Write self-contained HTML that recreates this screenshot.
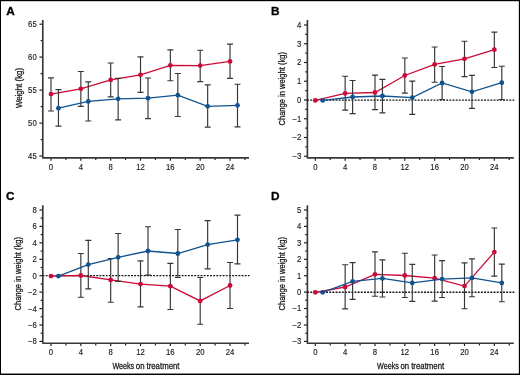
<!DOCTYPE html>
<html><head><meta charset="utf-8"><style>
html,body{margin:0;padding:0;background:#fff;-webkit-font-smoothing:antialiased;}
body{width:520px;height:375px;overflow:hidden;position:relative;}
svg{position:absolute;left:0;top:0;will-change:transform;}
.tk{font-family:"Liberation Sans", sans-serif;font-size:8.3px;fill:#1a1a1a;stroke:#1a1a1a;stroke-width:0.15px;}
.al{font-family:"Liberation Sans", sans-serif;font-size:9.8px;fill:#1a1a1a;stroke:#1a1a1a;stroke-width:0.3px;}
.pl{font-family:"Liberation Sans", sans-serif;font-size:11.8px;font-weight:bold;fill:#000;stroke:#000;stroke-width:0.3px;}
</style></head><body>
<svg width="520" height="375" viewBox="0 0 520 375">

<g><line x1="39.4" y1="156" x2="42.8" y2="156" stroke="#231f20" stroke-width="1.2"/><text x="36.7" y="158.9" text-anchor="end" textLength="8.58" lengthAdjust="spacingAndGlyphs" class="tk">45</text><line x1="40.6" y1="139.55" x2="42.8" y2="139.55" stroke="#231f20" stroke-width="1.2"/><line x1="39.4" y1="123.1" x2="42.8" y2="123.1" stroke="#231f20" stroke-width="1.2"/><text x="36.7" y="126" text-anchor="end" textLength="8.58" lengthAdjust="spacingAndGlyphs" class="tk">50</text><line x1="40.6" y1="106.6" x2="42.8" y2="106.6" stroke="#231f20" stroke-width="1.2"/><line x1="39.4" y1="90.1" x2="42.8" y2="90.1" stroke="#231f20" stroke-width="1.2"/><text x="36.7" y="93" text-anchor="end" textLength="8.58" lengthAdjust="spacingAndGlyphs" class="tk">55</text><line x1="40.6" y1="73.6" x2="42.8" y2="73.6" stroke="#231f20" stroke-width="1.2"/><line x1="39.4" y1="57.1" x2="42.8" y2="57.1" stroke="#231f20" stroke-width="1.2"/><text x="36.7" y="60" text-anchor="end" textLength="8.58" lengthAdjust="spacingAndGlyphs" class="tk">60</text><line x1="40.6" y1="40.65" x2="42.8" y2="40.65" stroke="#231f20" stroke-width="1.2"/><line x1="39.4" y1="24.2" x2="42.8" y2="24.2" stroke="#231f20" stroke-width="1.2"/><text x="36.7" y="27.1" text-anchor="end" textLength="8.58" lengthAdjust="spacingAndGlyphs" class="tk">65</text><line x1="51" y1="157.9" x2="51" y2="160.7" stroke="#231f20" stroke-width="1.2"/><text x="51" y="170" text-anchor="middle" textLength="4.29" lengthAdjust="spacingAndGlyphs" class="tk">0</text><line x1="65.92" y1="157.9" x2="65.92" y2="160.1" stroke="#231f20" stroke-width="1.2"/><line x1="80.84" y1="157.9" x2="80.84" y2="160.7" stroke="#231f20" stroke-width="1.2"/><text x="80.84" y="170" text-anchor="middle" textLength="4.29" lengthAdjust="spacingAndGlyphs" class="tk">4</text><line x1="95.76" y1="157.9" x2="95.76" y2="160.1" stroke="#231f20" stroke-width="1.2"/><line x1="110.68" y1="157.9" x2="110.68" y2="160.7" stroke="#231f20" stroke-width="1.2"/><text x="110.68" y="170" text-anchor="middle" textLength="4.29" lengthAdjust="spacingAndGlyphs" class="tk">8</text><line x1="125.6" y1="157.9" x2="125.6" y2="160.1" stroke="#231f20" stroke-width="1.2"/><line x1="140.52" y1="157.9" x2="140.52" y2="160.7" stroke="#231f20" stroke-width="1.2"/><text x="140.52" y="170" text-anchor="middle" textLength="8.58" lengthAdjust="spacingAndGlyphs" class="tk">12</text><line x1="155.44" y1="157.9" x2="155.44" y2="160.1" stroke="#231f20" stroke-width="1.2"/><line x1="170.36" y1="157.9" x2="170.36" y2="160.7" stroke="#231f20" stroke-width="1.2"/><text x="170.36" y="170" text-anchor="middle" textLength="8.58" lengthAdjust="spacingAndGlyphs" class="tk">16</text><line x1="185.28" y1="157.9" x2="185.28" y2="160.1" stroke="#231f20" stroke-width="1.2"/><line x1="200.2" y1="157.9" x2="200.2" y2="160.7" stroke="#231f20" stroke-width="1.2"/><text x="200.2" y="170" text-anchor="middle" textLength="8.58" lengthAdjust="spacingAndGlyphs" class="tk">20</text><line x1="215.12" y1="157.9" x2="215.12" y2="160.1" stroke="#231f20" stroke-width="1.2"/><line x1="230.04" y1="157.9" x2="230.04" y2="160.7" stroke="#231f20" stroke-width="1.2"/><text x="230.04" y="170" text-anchor="middle" textLength="8.58" lengthAdjust="spacingAndGlyphs" class="tk">24</text><line x1="244.96" y1="157.9" x2="244.96" y2="160.1" stroke="#231f20" stroke-width="1.2"/><path d="M42.8 19.9V157.9H249" fill="none" stroke="#383838" stroke-width="1.65" stroke-linejoin="round"/><path d="M51 77.9V111M48 77.9H54M48 111H54" stroke="#363636" stroke-width="1.15" fill="none"/><path d="M80.84 71.5V106.3M77.84 71.5H83.84M77.84 106.3H83.84" stroke="#363636" stroke-width="1.15" fill="none"/><path d="M110.68 63V96.9M107.68 63H113.68M107.68 96.9H113.68" stroke="#363636" stroke-width="1.15" fill="none"/><path d="M140.52 56.9V92.4M137.52 56.9H143.52M137.52 92.4H143.52" stroke="#363636" stroke-width="1.15" fill="none"/><path d="M170.36 49.9V80.7M167.36 49.9H173.36M167.36 80.7H173.36" stroke="#363636" stroke-width="1.15" fill="none"/><path d="M200.2 50.2V81.6M197.2 50.2H203.2M197.2 81.6H203.2" stroke="#363636" stroke-width="1.15" fill="none"/><path d="M230.04 44.1V78.4M227.04 44.1H233.04M227.04 78.4H233.04" stroke="#363636" stroke-width="1.15" fill="none"/><polyline points="51,94.1 80.84,88.8 110.68,79.9 140.52,74.8 170.36,65.3 200.2,65.6 230.04,61.4" fill="none" stroke="#cc0a38" stroke-width="1.3"/><circle cx="51" cy="94.1" r="2.4" fill="#cc0a38"/><circle cx="80.84" cy="88.8" r="2.4" fill="#cc0a38"/><circle cx="110.68" cy="79.9" r="2.4" fill="#cc0a38"/><circle cx="140.52" cy="74.8" r="2.4" fill="#cc0a38"/><circle cx="170.36" cy="65.3" r="2.4" fill="#cc0a38"/><circle cx="200.2" cy="65.6" r="2.4" fill="#cc0a38"/><circle cx="230.04" cy="61.4" r="2.4" fill="#cc0a38"/><path d="M58.46 89.6V126.1M55.46 89.6H61.46M55.46 126.1H61.46" stroke="#363636" stroke-width="1.15" fill="none"/><path d="M88.3 81.9V121M85.3 81.9H91.3M85.3 121H91.3" stroke="#363636" stroke-width="1.15" fill="none"/><path d="M118.14 78.3V119.9M115.14 78.3H121.14M115.14 119.9H121.14" stroke="#363636" stroke-width="1.15" fill="none"/><path d="M147.98 78V118.6M144.98 78H150.98M144.98 118.6H150.98" stroke="#363636" stroke-width="1.15" fill="none"/><path d="M177.82 73.5V116.5M174.82 73.5H180.82M174.82 116.5H180.82" stroke="#363636" stroke-width="1.15" fill="none"/><path d="M207.66 84.8V127.1M204.66 84.8H210.66M204.66 127.1H210.66" stroke="#363636" stroke-width="1.15" fill="none"/><path d="M237.5 84.2V126.8M234.5 84.2H240.5M234.5 126.8H240.5" stroke="#363636" stroke-width="1.15" fill="none"/><polyline points="58.46,108.2 88.3,101.4 118.14,98.8 147.98,98.2 177.82,95.2 207.66,106.3 237.5,105.3" fill="none" stroke="#10538f" stroke-width="1.3"/><circle cx="58.46" cy="108.2" r="2.4" fill="#10538f"/><circle cx="88.3" cy="101.4" r="2.4" fill="#10538f"/><circle cx="118.14" cy="98.8" r="2.4" fill="#10538f"/><circle cx="147.98" cy="98.2" r="2.4" fill="#10538f"/><circle cx="177.82" cy="95.2" r="2.4" fill="#10538f"/><circle cx="207.66" cy="106.3" r="2.4" fill="#10538f"/><circle cx="237.5" cy="105.3" r="2.4" fill="#10538f"/><text x="6.2" y="14.7" class="pl">A</text><text transform="translate(21.6 88) rotate(-90)" x="-20.1" y="0" textLength="40.2" lengthAdjust="spacingAndGlyphs" class="al">Weight (kg)</text></g>
<g><line x1="304" y1="156.25" x2="307.4" y2="156.25" stroke="#231f20" stroke-width="1.2"/><text x="301.3" y="159.15" text-anchor="end" textLength="8.8" lengthAdjust="spacingAndGlyphs" class="tk">−3</text><line x1="305.2" y1="146.88" x2="307.4" y2="146.88" stroke="#231f20" stroke-width="1.2"/><line x1="304" y1="137.5" x2="307.4" y2="137.5" stroke="#231f20" stroke-width="1.2"/><text x="301.3" y="140.4" text-anchor="end" textLength="8.8" lengthAdjust="spacingAndGlyphs" class="tk">−2</text><line x1="305.2" y1="128.12" x2="307.4" y2="128.12" stroke="#231f20" stroke-width="1.2"/><line x1="304" y1="118.75" x2="307.4" y2="118.75" stroke="#231f20" stroke-width="1.2"/><text x="301.3" y="121.65" text-anchor="end" textLength="8.8" lengthAdjust="spacingAndGlyphs" class="tk">−1</text><line x1="305.2" y1="109.38" x2="307.4" y2="109.38" stroke="#231f20" stroke-width="1.2"/><line x1="304" y1="100" x2="307.4" y2="100" stroke="#231f20" stroke-width="1.2"/><text x="301.3" y="102.9" text-anchor="end" textLength="4.29" lengthAdjust="spacingAndGlyphs" class="tk">0</text><line x1="305.2" y1="90.62" x2="307.4" y2="90.62" stroke="#231f20" stroke-width="1.2"/><line x1="304" y1="81.25" x2="307.4" y2="81.25" stroke="#231f20" stroke-width="1.2"/><text x="301.3" y="84.15" text-anchor="end" textLength="4.29" lengthAdjust="spacingAndGlyphs" class="tk">1</text><line x1="305.2" y1="71.88" x2="307.4" y2="71.88" stroke="#231f20" stroke-width="1.2"/><line x1="304" y1="62.5" x2="307.4" y2="62.5" stroke="#231f20" stroke-width="1.2"/><text x="301.3" y="65.4" text-anchor="end" textLength="4.29" lengthAdjust="spacingAndGlyphs" class="tk">2</text><line x1="305.2" y1="53.12" x2="307.4" y2="53.12" stroke="#231f20" stroke-width="1.2"/><line x1="304" y1="43.75" x2="307.4" y2="43.75" stroke="#231f20" stroke-width="1.2"/><text x="301.3" y="46.65" text-anchor="end" textLength="4.29" lengthAdjust="spacingAndGlyphs" class="tk">3</text><line x1="305.2" y1="34.38" x2="307.4" y2="34.38" stroke="#231f20" stroke-width="1.2"/><line x1="304" y1="25" x2="307.4" y2="25" stroke="#231f20" stroke-width="1.2"/><text x="301.3" y="27.9" text-anchor="end" textLength="4.29" lengthAdjust="spacingAndGlyphs" class="tk">4</text><line x1="315.3" y1="157.9" x2="315.3" y2="160.7" stroke="#231f20" stroke-width="1.2"/><text x="315.3" y="170" text-anchor="middle" textLength="4.29" lengthAdjust="spacingAndGlyphs" class="tk">0</text><line x1="330.22" y1="157.9" x2="330.22" y2="160.1" stroke="#231f20" stroke-width="1.2"/><line x1="345.14" y1="157.9" x2="345.14" y2="160.7" stroke="#231f20" stroke-width="1.2"/><text x="345.14" y="170" text-anchor="middle" textLength="4.29" lengthAdjust="spacingAndGlyphs" class="tk">4</text><line x1="360.06" y1="157.9" x2="360.06" y2="160.1" stroke="#231f20" stroke-width="1.2"/><line x1="374.98" y1="157.9" x2="374.98" y2="160.7" stroke="#231f20" stroke-width="1.2"/><text x="374.98" y="170" text-anchor="middle" textLength="4.29" lengthAdjust="spacingAndGlyphs" class="tk">8</text><line x1="389.9" y1="157.9" x2="389.9" y2="160.1" stroke="#231f20" stroke-width="1.2"/><line x1="404.82" y1="157.9" x2="404.82" y2="160.7" stroke="#231f20" stroke-width="1.2"/><text x="404.82" y="170" text-anchor="middle" textLength="8.58" lengthAdjust="spacingAndGlyphs" class="tk">12</text><line x1="419.74" y1="157.9" x2="419.74" y2="160.1" stroke="#231f20" stroke-width="1.2"/><line x1="434.66" y1="157.9" x2="434.66" y2="160.7" stroke="#231f20" stroke-width="1.2"/><text x="434.66" y="170" text-anchor="middle" textLength="8.58" lengthAdjust="spacingAndGlyphs" class="tk">16</text><line x1="449.58" y1="157.9" x2="449.58" y2="160.1" stroke="#231f20" stroke-width="1.2"/><line x1="464.5" y1="157.9" x2="464.5" y2="160.7" stroke="#231f20" stroke-width="1.2"/><text x="464.5" y="170" text-anchor="middle" textLength="8.58" lengthAdjust="spacingAndGlyphs" class="tk">20</text><line x1="479.42" y1="157.9" x2="479.42" y2="160.1" stroke="#231f20" stroke-width="1.2"/><line x1="494.34" y1="157.9" x2="494.34" y2="160.7" stroke="#231f20" stroke-width="1.2"/><text x="494.34" y="170" text-anchor="middle" textLength="8.58" lengthAdjust="spacingAndGlyphs" class="tk">24</text><line x1="509.26" y1="157.9" x2="509.26" y2="160.1" stroke="#231f20" stroke-width="1.2"/><path d="M307.4 19.9V157.9H513.8" fill="none" stroke="#383838" stroke-width="1.65" stroke-linejoin="round"/><line x1="307.13" y1="100.15" x2="514.3" y2="100.15" stroke="#111" stroke-width="1.4" stroke-dasharray="1.9 1.26"/><path d="M345.14 76.2V110.1M342.14 76.2H348.14M342.14 110.1H348.14" stroke="#363636" stroke-width="1.15" fill="none"/><path d="M374.98 75.1V109.6M371.98 75.1H377.98M371.98 109.6H377.98" stroke="#363636" stroke-width="1.15" fill="none"/><path d="M404.82 58V93.1M401.82 58H407.82M401.82 93.1H407.82" stroke="#363636" stroke-width="1.15" fill="none"/><path d="M434.66 47V82.2M431.66 47H437.66M431.66 82.2H437.66" stroke="#363636" stroke-width="1.15" fill="none"/><path d="M464.5 41.2V76.6M461.5 41.2H467.5M461.5 76.6H467.5" stroke="#363636" stroke-width="1.15" fill="none"/><path d="M494.34 32.1V67.5M491.34 32.1H497.34M491.34 67.5H497.34" stroke="#363636" stroke-width="1.15" fill="none"/><polyline points="315.3,100.4 345.14,93.3 374.98,92.5 404.82,75.5 434.66,64.4 464.5,58.8 494.34,49.7" fill="none" stroke="#cc0a38" stroke-width="1.3"/><circle cx="315.3" cy="100.4" r="2.4" fill="#cc0a38"/><circle cx="345.14" cy="93.3" r="2.4" fill="#cc0a38"/><circle cx="374.98" cy="92.5" r="2.4" fill="#cc0a38"/><circle cx="404.82" cy="75.5" r="2.4" fill="#cc0a38"/><circle cx="434.66" cy="64.4" r="2.4" fill="#cc0a38"/><circle cx="464.5" cy="58.8" r="2.4" fill="#cc0a38"/><circle cx="494.34" cy="49.7" r="2.4" fill="#cc0a38"/><path d="M352.6 80.5V113.6M349.6 80.5H355.6M349.6 113.6H355.6" stroke="#363636" stroke-width="1.15" fill="none"/><path d="M382.44 79.4V112.8M379.44 79.4H385.44M379.44 112.8H385.44" stroke="#363636" stroke-width="1.15" fill="none"/><path d="M412.28 81.1V114.4M409.28 81.1H415.28M409.28 114.4H415.28" stroke="#363636" stroke-width="1.15" fill="none"/><path d="M442.12 66.5V99.5M439.12 66.5H445.12M439.12 99.5H445.12" stroke="#363636" stroke-width="1.15" fill="none"/><path d="M471.96 75.3V108.3M468.96 75.3H474.96M468.96 108.3H474.96" stroke="#363636" stroke-width="1.15" fill="none"/><path d="M501.8 66.2V99.5M498.8 66.2H504.8M498.8 99.5H504.8" stroke="#363636" stroke-width="1.15" fill="none"/><polyline points="322.76,100.4 352.6,97 382.44,96 412.28,97.7 442.12,83 471.96,91.8 501.8,82.7" fill="none" stroke="#10538f" stroke-width="1.3"/><circle cx="322.76" cy="100.4" r="2.4" fill="#10538f"/><circle cx="352.6" cy="97" r="2.4" fill="#10538f"/><circle cx="382.44" cy="96" r="2.4" fill="#10538f"/><circle cx="412.28" cy="97.7" r="2.4" fill="#10538f"/><circle cx="442.12" cy="83" r="2.4" fill="#10538f"/><circle cx="471.96" cy="91.8" r="2.4" fill="#10538f"/><circle cx="501.8" cy="82.7" r="2.4" fill="#10538f"/><text x="270.9" y="14.7" class="pl">B</text><text transform="translate(285.4 88.8) rotate(-90)" x="-36.7" y="0" textLength="73.4" lengthAdjust="spacingAndGlyphs" class="al">Change in weight (kg)</text></g>
<g><line x1="39.4" y1="341.4" x2="42.8" y2="341.4" stroke="#231f20" stroke-width="1.2"/><text x="36.7" y="344.3" text-anchor="end" textLength="8.8" lengthAdjust="spacingAndGlyphs" class="tk">−8</text><line x1="40.6" y1="333.2" x2="42.8" y2="333.2" stroke="#231f20" stroke-width="1.2"/><line x1="39.4" y1="325" x2="42.8" y2="325" stroke="#231f20" stroke-width="1.2"/><text x="36.7" y="327.9" text-anchor="end" textLength="8.8" lengthAdjust="spacingAndGlyphs" class="tk">−6</text><line x1="40.6" y1="316.8" x2="42.8" y2="316.8" stroke="#231f20" stroke-width="1.2"/><line x1="39.4" y1="308.6" x2="42.8" y2="308.6" stroke="#231f20" stroke-width="1.2"/><text x="36.7" y="311.5" text-anchor="end" textLength="8.8" lengthAdjust="spacingAndGlyphs" class="tk">−4</text><line x1="40.6" y1="300.35" x2="42.8" y2="300.35" stroke="#231f20" stroke-width="1.2"/><line x1="39.4" y1="292.1" x2="42.8" y2="292.1" stroke="#231f20" stroke-width="1.2"/><text x="36.7" y="295" text-anchor="end" textLength="8.8" lengthAdjust="spacingAndGlyphs" class="tk">−2</text><line x1="40.6" y1="283.9" x2="42.8" y2="283.9" stroke="#231f20" stroke-width="1.2"/><line x1="39.4" y1="275.7" x2="42.8" y2="275.7" stroke="#231f20" stroke-width="1.2"/><text x="36.7" y="278.6" text-anchor="end" textLength="4.29" lengthAdjust="spacingAndGlyphs" class="tk">0</text><line x1="40.6" y1="267.5" x2="42.8" y2="267.5" stroke="#231f20" stroke-width="1.2"/><line x1="39.4" y1="259.3" x2="42.8" y2="259.3" stroke="#231f20" stroke-width="1.2"/><text x="36.7" y="262.2" text-anchor="end" textLength="4.29" lengthAdjust="spacingAndGlyphs" class="tk">2</text><line x1="40.6" y1="251.05" x2="42.8" y2="251.05" stroke="#231f20" stroke-width="1.2"/><line x1="39.4" y1="242.8" x2="42.8" y2="242.8" stroke="#231f20" stroke-width="1.2"/><text x="36.7" y="245.7" text-anchor="end" textLength="4.29" lengthAdjust="spacingAndGlyphs" class="tk">4</text><line x1="40.6" y1="234.6" x2="42.8" y2="234.6" stroke="#231f20" stroke-width="1.2"/><line x1="39.4" y1="226.4" x2="42.8" y2="226.4" stroke="#231f20" stroke-width="1.2"/><text x="36.7" y="229.3" text-anchor="end" textLength="4.29" lengthAdjust="spacingAndGlyphs" class="tk">6</text><line x1="40.6" y1="218.2" x2="42.8" y2="218.2" stroke="#231f20" stroke-width="1.2"/><line x1="39.4" y1="210" x2="42.8" y2="210" stroke="#231f20" stroke-width="1.2"/><text x="36.7" y="212.9" text-anchor="end" textLength="4.29" lengthAdjust="spacingAndGlyphs" class="tk">8</text><line x1="51" y1="343.2" x2="51" y2="346" stroke="#231f20" stroke-width="1.2"/><text x="51" y="355.3" text-anchor="middle" textLength="4.29" lengthAdjust="spacingAndGlyphs" class="tk">0</text><line x1="65.92" y1="343.2" x2="65.92" y2="345.4" stroke="#231f20" stroke-width="1.2"/><line x1="80.84" y1="343.2" x2="80.84" y2="346" stroke="#231f20" stroke-width="1.2"/><text x="80.84" y="355.3" text-anchor="middle" textLength="4.29" lengthAdjust="spacingAndGlyphs" class="tk">4</text><line x1="95.76" y1="343.2" x2="95.76" y2="345.4" stroke="#231f20" stroke-width="1.2"/><line x1="110.68" y1="343.2" x2="110.68" y2="346" stroke="#231f20" stroke-width="1.2"/><text x="110.68" y="355.3" text-anchor="middle" textLength="4.29" lengthAdjust="spacingAndGlyphs" class="tk">8</text><line x1="125.6" y1="343.2" x2="125.6" y2="345.4" stroke="#231f20" stroke-width="1.2"/><line x1="140.52" y1="343.2" x2="140.52" y2="346" stroke="#231f20" stroke-width="1.2"/><text x="140.52" y="355.3" text-anchor="middle" textLength="8.58" lengthAdjust="spacingAndGlyphs" class="tk">12</text><line x1="155.44" y1="343.2" x2="155.44" y2="345.4" stroke="#231f20" stroke-width="1.2"/><line x1="170.36" y1="343.2" x2="170.36" y2="346" stroke="#231f20" stroke-width="1.2"/><text x="170.36" y="355.3" text-anchor="middle" textLength="8.58" lengthAdjust="spacingAndGlyphs" class="tk">16</text><line x1="185.28" y1="343.2" x2="185.28" y2="345.4" stroke="#231f20" stroke-width="1.2"/><line x1="200.2" y1="343.2" x2="200.2" y2="346" stroke="#231f20" stroke-width="1.2"/><text x="200.2" y="355.3" text-anchor="middle" textLength="8.58" lengthAdjust="spacingAndGlyphs" class="tk">20</text><line x1="215.12" y1="343.2" x2="215.12" y2="345.4" stroke="#231f20" stroke-width="1.2"/><line x1="230.04" y1="343.2" x2="230.04" y2="346" stroke="#231f20" stroke-width="1.2"/><text x="230.04" y="355.3" text-anchor="middle" textLength="8.58" lengthAdjust="spacingAndGlyphs" class="tk">24</text><line x1="244.96" y1="343.2" x2="244.96" y2="345.4" stroke="#231f20" stroke-width="1.2"/><path d="M42.8 205.2V343.2H249" fill="none" stroke="#383838" stroke-width="1.65" stroke-linejoin="round"/><line x1="42.53" y1="275.6" x2="249.5" y2="275.6" stroke="#111" stroke-width="1.4" stroke-dasharray="1.9 1.26"/><path d="M80.84 253.5V297.2M77.84 253.5H83.84M77.84 297.2H83.84" stroke="#363636" stroke-width="1.15" fill="none"/><path d="M110.68 258.5V302.2M107.68 258.5H113.68M107.68 302.2H113.68" stroke="#363636" stroke-width="1.15" fill="none"/><path d="M140.52 260.9V306.8M137.52 260.9H143.52M137.52 306.8H143.52" stroke="#363636" stroke-width="1.15" fill="none"/><path d="M170.36 263.4V309.5M167.36 263.4H173.36M167.36 309.5H173.36" stroke="#363636" stroke-width="1.15" fill="none"/><path d="M200.2 277.5V324.2M197.2 277.5H203.2M197.2 324.2H203.2" stroke="#363636" stroke-width="1.15" fill="none"/><path d="M230.04 262.5V308.5M227.04 262.5H233.04M227.04 308.5H233.04" stroke="#363636" stroke-width="1.15" fill="none"/><polyline points="51,276.1 80.84,275.5 110.68,279.9 140.52,284.1 170.36,286.2 200.2,300.9 230.04,285.5" fill="none" stroke="#cc0a38" stroke-width="1.3"/><circle cx="51" cy="276.1" r="2.4" fill="#cc0a38"/><circle cx="80.84" cy="275.5" r="2.4" fill="#cc0a38"/><circle cx="110.68" cy="279.9" r="2.4" fill="#cc0a38"/><circle cx="140.52" cy="284.1" r="2.4" fill="#cc0a38"/><circle cx="170.36" cy="286.2" r="2.4" fill="#cc0a38"/><circle cx="200.2" cy="300.9" r="2.4" fill="#cc0a38"/><circle cx="230.04" cy="285.5" r="2.4" fill="#cc0a38"/><path d="M88.3 240.3V288.8M85.3 240.3H91.3M85.3 288.8H91.3" stroke="#363636" stroke-width="1.15" fill="none"/><path d="M118.14 233.5V281.4M115.14 233.5H121.14M115.14 281.4H121.14" stroke="#363636" stroke-width="1.15" fill="none"/><path d="M147.98 226.7V275.1M144.98 226.7H150.98M144.98 275.1H150.98" stroke="#363636" stroke-width="1.15" fill="none"/><path d="M177.82 229.5V277.5M174.82 229.5H180.82M174.82 277.5H180.82" stroke="#363636" stroke-width="1.15" fill="none"/><path d="M207.66 220.6V268.9M204.66 220.6H210.66M204.66 268.9H210.66" stroke="#363636" stroke-width="1.15" fill="none"/><path d="M237.5 215.1V263.8M234.5 215.1H240.5M234.5 263.8H240.5" stroke="#363636" stroke-width="1.15" fill="none"/><polyline points="58.46,276.1 88.3,264.6 118.14,257.3 147.98,251 177.82,253.5 207.66,244.6 237.5,239.8" fill="none" stroke="#10538f" stroke-width="1.3"/><circle cx="58.46" cy="276.1" r="2.4" fill="#10538f"/><circle cx="88.3" cy="264.6" r="2.4" fill="#10538f"/><circle cx="118.14" cy="257.3" r="2.4" fill="#10538f"/><circle cx="147.98" cy="251" r="2.4" fill="#10538f"/><circle cx="177.82" cy="253.5" r="2.4" fill="#10538f"/><circle cx="207.66" cy="244.6" r="2.4" fill="#10538f"/><circle cx="237.5" cy="239.8" r="2.4" fill="#10538f"/><text x="6.1" y="199.7" class="pl">C</text><text transform="translate(21 273.8) rotate(-90)" x="-36.7" y="0" textLength="73.4" lengthAdjust="spacingAndGlyphs" class="al">Change in weight (kg)</text><text x="112.4" y="368.6" textLength="21.8" lengthAdjust="spacingAndGlyphs" class="al">Weeks</text><text x="135.8" y="368.6" textLength="8.7" lengthAdjust="spacingAndGlyphs" class="al">on</text><text x="146.5" y="368.6" textLength="33.0" lengthAdjust="spacingAndGlyphs" class="al">treatment</text></g>
<g><line x1="304" y1="341.4" x2="307.4" y2="341.4" stroke="#231f20" stroke-width="1.2"/><text x="301.3" y="344.3" text-anchor="end" textLength="8.8" lengthAdjust="spacingAndGlyphs" class="tk">−3</text><line x1="305.2" y1="333.2" x2="307.4" y2="333.2" stroke="#231f20" stroke-width="1.2"/><line x1="304" y1="325" x2="307.4" y2="325" stroke="#231f20" stroke-width="1.2"/><text x="301.3" y="327.9" text-anchor="end" textLength="8.8" lengthAdjust="spacingAndGlyphs" class="tk">−2</text><line x1="305.2" y1="316.75" x2="307.4" y2="316.75" stroke="#231f20" stroke-width="1.2"/><line x1="304" y1="308.5" x2="307.4" y2="308.5" stroke="#231f20" stroke-width="1.2"/><text x="301.3" y="311.4" text-anchor="end" textLength="8.8" lengthAdjust="spacingAndGlyphs" class="tk">−1</text><line x1="305.2" y1="300.3" x2="307.4" y2="300.3" stroke="#231f20" stroke-width="1.2"/><line x1="304" y1="292.1" x2="307.4" y2="292.1" stroke="#231f20" stroke-width="1.2"/><text x="301.3" y="295" text-anchor="end" textLength="4.29" lengthAdjust="spacingAndGlyphs" class="tk">0</text><line x1="305.2" y1="283.9" x2="307.4" y2="283.9" stroke="#231f20" stroke-width="1.2"/><line x1="304" y1="275.7" x2="307.4" y2="275.7" stroke="#231f20" stroke-width="1.2"/><text x="301.3" y="278.6" text-anchor="end" textLength="4.29" lengthAdjust="spacingAndGlyphs" class="tk">1</text><line x1="305.2" y1="267.5" x2="307.4" y2="267.5" stroke="#231f20" stroke-width="1.2"/><line x1="304" y1="259.3" x2="307.4" y2="259.3" stroke="#231f20" stroke-width="1.2"/><text x="301.3" y="262.2" text-anchor="end" textLength="4.29" lengthAdjust="spacingAndGlyphs" class="tk">2</text><line x1="305.2" y1="251.05" x2="307.4" y2="251.05" stroke="#231f20" stroke-width="1.2"/><line x1="304" y1="242.8" x2="307.4" y2="242.8" stroke="#231f20" stroke-width="1.2"/><text x="301.3" y="245.7" text-anchor="end" textLength="4.29" lengthAdjust="spacingAndGlyphs" class="tk">3</text><line x1="305.2" y1="234.6" x2="307.4" y2="234.6" stroke="#231f20" stroke-width="1.2"/><line x1="304" y1="226.4" x2="307.4" y2="226.4" stroke="#231f20" stroke-width="1.2"/><text x="301.3" y="229.3" text-anchor="end" textLength="4.29" lengthAdjust="spacingAndGlyphs" class="tk">4</text><line x1="305.2" y1="218.2" x2="307.4" y2="218.2" stroke="#231f20" stroke-width="1.2"/><line x1="304" y1="210" x2="307.4" y2="210" stroke="#231f20" stroke-width="1.2"/><text x="301.3" y="212.9" text-anchor="end" textLength="4.29" lengthAdjust="spacingAndGlyphs" class="tk">5</text><line x1="315.3" y1="343.2" x2="315.3" y2="346" stroke="#231f20" stroke-width="1.2"/><text x="315.3" y="355.3" text-anchor="middle" textLength="4.29" lengthAdjust="spacingAndGlyphs" class="tk">0</text><line x1="330.22" y1="343.2" x2="330.22" y2="345.4" stroke="#231f20" stroke-width="1.2"/><line x1="345.14" y1="343.2" x2="345.14" y2="346" stroke="#231f20" stroke-width="1.2"/><text x="345.14" y="355.3" text-anchor="middle" textLength="4.29" lengthAdjust="spacingAndGlyphs" class="tk">4</text><line x1="360.06" y1="343.2" x2="360.06" y2="345.4" stroke="#231f20" stroke-width="1.2"/><line x1="374.98" y1="343.2" x2="374.98" y2="346" stroke="#231f20" stroke-width="1.2"/><text x="374.98" y="355.3" text-anchor="middle" textLength="4.29" lengthAdjust="spacingAndGlyphs" class="tk">8</text><line x1="389.9" y1="343.2" x2="389.9" y2="345.4" stroke="#231f20" stroke-width="1.2"/><line x1="404.82" y1="343.2" x2="404.82" y2="346" stroke="#231f20" stroke-width="1.2"/><text x="404.82" y="355.3" text-anchor="middle" textLength="8.58" lengthAdjust="spacingAndGlyphs" class="tk">12</text><line x1="419.74" y1="343.2" x2="419.74" y2="345.4" stroke="#231f20" stroke-width="1.2"/><line x1="434.66" y1="343.2" x2="434.66" y2="346" stroke="#231f20" stroke-width="1.2"/><text x="434.66" y="355.3" text-anchor="middle" textLength="8.58" lengthAdjust="spacingAndGlyphs" class="tk">16</text><line x1="449.58" y1="343.2" x2="449.58" y2="345.4" stroke="#231f20" stroke-width="1.2"/><line x1="464.5" y1="343.2" x2="464.5" y2="346" stroke="#231f20" stroke-width="1.2"/><text x="464.5" y="355.3" text-anchor="middle" textLength="8.58" lengthAdjust="spacingAndGlyphs" class="tk">20</text><line x1="479.42" y1="343.2" x2="479.42" y2="345.4" stroke="#231f20" stroke-width="1.2"/><line x1="494.34" y1="343.2" x2="494.34" y2="346" stroke="#231f20" stroke-width="1.2"/><text x="494.34" y="355.3" text-anchor="middle" textLength="8.58" lengthAdjust="spacingAndGlyphs" class="tk">24</text><line x1="509.26" y1="343.2" x2="509.26" y2="345.4" stroke="#231f20" stroke-width="1.2"/><path d="M307.4 205.2V343.2H513.8" fill="none" stroke="#383838" stroke-width="1.65" stroke-linejoin="round"/><line x1="307.13" y1="292.3" x2="514.3" y2="292.3" stroke="#111" stroke-width="1.4" stroke-dasharray="1.9 1.26"/><path d="M345.14 264.7V308.9M342.14 264.7H348.14M342.14 308.9H348.14" stroke="#363636" stroke-width="1.15" fill="none"/><path d="M374.98 251.9V296.2M371.98 251.9H377.98M371.98 296.2H377.98" stroke="#363636" stroke-width="1.15" fill="none"/><path d="M404.82 253.2V297.5M401.82 253.2H407.82M401.82 297.5H407.82" stroke="#363636" stroke-width="1.15" fill="none"/><path d="M434.66 255V301.1M431.66 255H437.66M431.66 301.1H437.66" stroke="#363636" stroke-width="1.15" fill="none"/><path d="M464.5 262.9V308.7M461.5 262.9H467.5M461.5 308.7H467.5" stroke="#363636" stroke-width="1.15" fill="none"/><path d="M494.34 228V276.1M491.34 228H497.34M491.34 276.1H497.34" stroke="#363636" stroke-width="1.15" fill="none"/><polyline points="315.3,292.3 345.14,287 374.98,274.3 404.82,275.5 434.66,278.2 464.5,286.1 494.34,252.1" fill="none" stroke="#cc0a38" stroke-width="1.3"/><circle cx="315.3" cy="292.3" r="2.4" fill="#cc0a38"/><circle cx="345.14" cy="287" r="2.4" fill="#cc0a38"/><circle cx="374.98" cy="274.3" r="2.4" fill="#cc0a38"/><circle cx="404.82" cy="275.5" r="2.4" fill="#cc0a38"/><circle cx="434.66" cy="278.2" r="2.4" fill="#cc0a38"/><circle cx="464.5" cy="286.1" r="2.4" fill="#cc0a38"/><circle cx="494.34" cy="252.1" r="2.4" fill="#cc0a38"/><path d="M352.6 262.6V299.4M349.6 262.6H355.6M349.6 299.4H355.6" stroke="#363636" stroke-width="1.15" fill="none"/><path d="M382.44 259.9V297M379.44 259.9H385.44M379.44 297H385.44" stroke="#363636" stroke-width="1.15" fill="none"/><path d="M412.28 264.4V301.4M409.28 264.4H415.28M409.28 301.4H415.28" stroke="#363636" stroke-width="1.15" fill="none"/><path d="M442.12 260.6V297.5M439.12 260.6H445.12M439.12 297.5H445.12" stroke="#363636" stroke-width="1.15" fill="none"/><path d="M471.96 258.8V296.7M468.96 258.8H474.96M468.96 296.7H474.96" stroke="#363636" stroke-width="1.15" fill="none"/><path d="M501.8 264.1V301.7M498.8 264.1H504.8M498.8 301.7H504.8" stroke="#363636" stroke-width="1.15" fill="none"/><polyline points="322.76,292.3 352.6,281.3 382.44,278.4 412.28,282.9 442.12,279.1 471.96,277.9 501.8,282.9" fill="none" stroke="#10538f" stroke-width="1.3"/><circle cx="322.76" cy="292.3" r="2.4" fill="#10538f"/><circle cx="352.6" cy="281.3" r="2.4" fill="#10538f"/><circle cx="382.44" cy="278.4" r="2.4" fill="#10538f"/><circle cx="412.28" cy="282.9" r="2.4" fill="#10538f"/><circle cx="442.12" cy="279.1" r="2.4" fill="#10538f"/><circle cx="471.96" cy="277.9" r="2.4" fill="#10538f"/><circle cx="501.8" cy="282.9" r="2.4" fill="#10538f"/><text x="270.9" y="199.7" class="pl">D</text><text transform="translate(285.4 273.8) rotate(-90)" x="-36.7" y="0" textLength="73.4" lengthAdjust="spacingAndGlyphs" class="al">Change in weight (kg)</text><text x="377.1" y="368.6" textLength="21.8" lengthAdjust="spacingAndGlyphs" class="al">Weeks</text><text x="400.5" y="368.6" textLength="8.7" lengthAdjust="spacingAndGlyphs" class="al">on</text><text x="411.2" y="368.6" textLength="33.0" lengthAdjust="spacingAndGlyphs" class="al">treatment</text></g>
<rect x="0.5" y="0.5" width="519" height="374" fill="none" stroke="#000" stroke-width="1"/>
<rect x="0" y="0" width="520" height="1.2" fill="#000"/>
<rect x="518.85" y="0" width="1.15" height="375" fill="#000"/>
<rect x="0" y="373.55" width="520" height="1.45" fill="#000"/>
</svg>
</body></html>
